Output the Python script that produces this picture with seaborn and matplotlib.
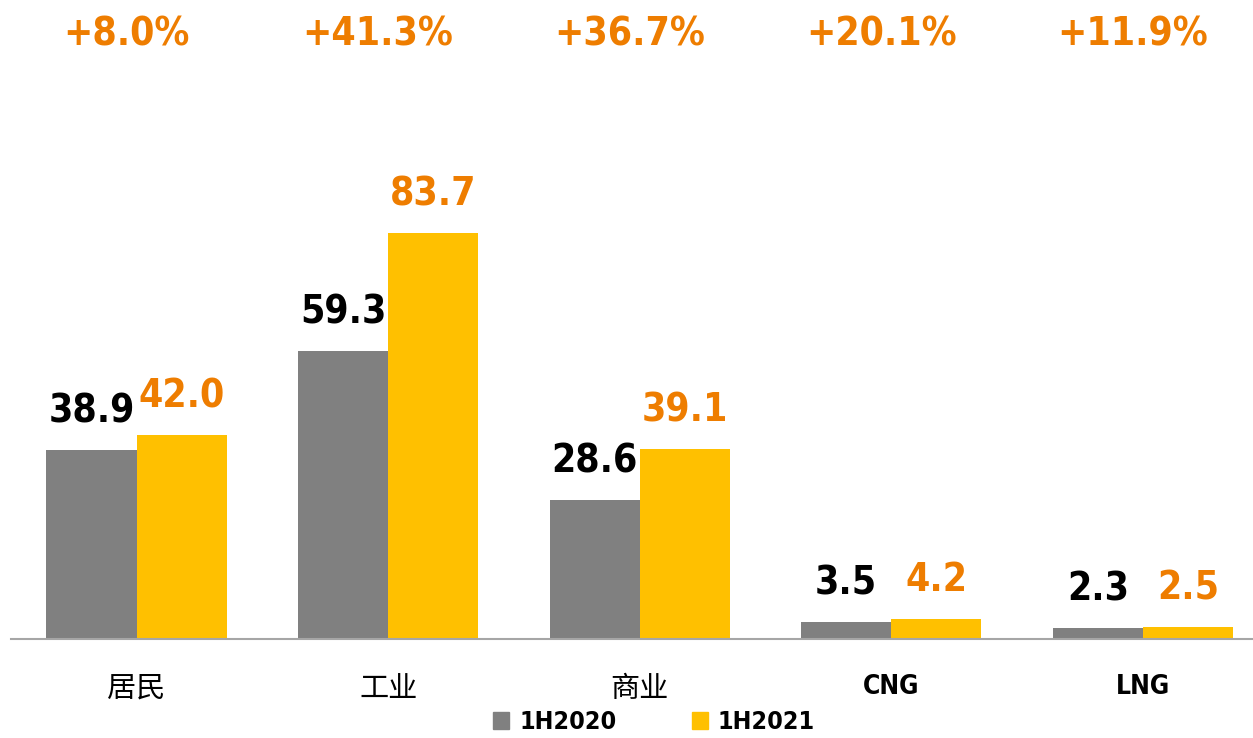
import matplotlib
matplotlib.use('Agg')
import matplotlib.pyplot as plt
import pandas as pd
import seaborn as sns

categories = ['居民', '工业', '商业', 'CNG', 'LNG']
periods = ['1H2020', '1H2021']
vals_2020 = [38.9, 59.3, 28.6, 3.5, 2.3]
vals_2021 = [42.0, 83.7, 39.1, 4.2, 2.5]
growth = ['+8.0%', '+41.3%', '+36.7%', '+20.1%', '+11.9%']

grey = '#808080'
gold = '#FFC000'
orange = '#EE7D00'
narrow = ['DejaVu Sans', 'Liberation Sans Narrow']
cjk = ['Noto Sans CJK SC', 'DejaVu Sans']

df = pd.DataFrame({
    'cat': categories * 2,
    'period': [periods[0]] * 5 + [periods[1]] * 5,
    'val': vals_2020 + vals_2021,
})

sns.set_style('white')
plt.rcParams['font.family'] = narrow
plt.rcParams['font.stretch'] = 'condensed'

fig = plt.figure(figsize=(12.53, 7.38), dpi=100)
ax = fig.add_axes([11 / 1253, 99 / 738, 1 - 11 / 1253, 639 / 738])

sns.barplot(data=df, x='cat', y='val', hue='period', palette=[grey, gold],
            width=0.716, saturation=1, gap=0, linewidth=0, ax=ax, legend=False)

ax.set_xlim(-0.499, 4.438)
ax.set_ylim(0, 131.7)
ax.set_xlabel('')
ax.set_ylabel('')
ax.set_yticks([])
for s in ['top', 'right', 'left']:
    ax.spines[s].set_visible(False)
ax.spines['bottom'].set_color('#A6A6A6')
ax.spines['bottom'].set_linewidth(1.5)
ax.tick_params(axis='x', length=0, pad=25)

for lbl in ax.get_xticklabels():
    if lbl.get_text() in ('CNG', 'LNG'):
        lbl.set_fontfamily(narrow)
        lbl.set_fontweight('bold')
        lbl.set_fontsize(19)
    else:
        lbl.set_fontfamily(cjk)
        lbl.set_fontsize(21)
    lbl.set_color('black')

# value labels above each bar
for container, color in zip(ax.containers, ['black', orange]):
    for bar in container:
        h = bar.get_height()
        ax.annotate(f'{h:.1f}', (bar.get_x() + bar.get_width() / 2, h),
                    xytext=(0, 14), textcoords='offset points',
                    ha='center', va='bottom', fontsize=28,
                    fontweight='bold', color=color, family=narrow)

# growth rates along the top
for i, g in enumerate(growth):
    ax.text(i - 0.04, 124.5, g, ha='center', va='center', fontsize=28,
            fontweight='bold', color=orange, family=narrow, clip_on=False)

handles = [plt.Rectangle((0, 0), 1, 1, color=grey),
           plt.Rectangle((0, 0), 1, 1, color=gold)]
leg = fig.legend(handles, periods, loc='center', bbox_to_anchor=(654 / 1253, 1 - 722 / 738),
                 ncol=2, frameon=False, prop={'family': narrow, 'weight': 'bold', 'size': 18},
                 handlelength=0.65, handleheight=0.65, handletextpad=0.4, columnspacing=3.0,
                 borderpad=0)
for t in leg.get_texts():
    t.set_color('black')

fig.savefig('out.png', dpi=100)
